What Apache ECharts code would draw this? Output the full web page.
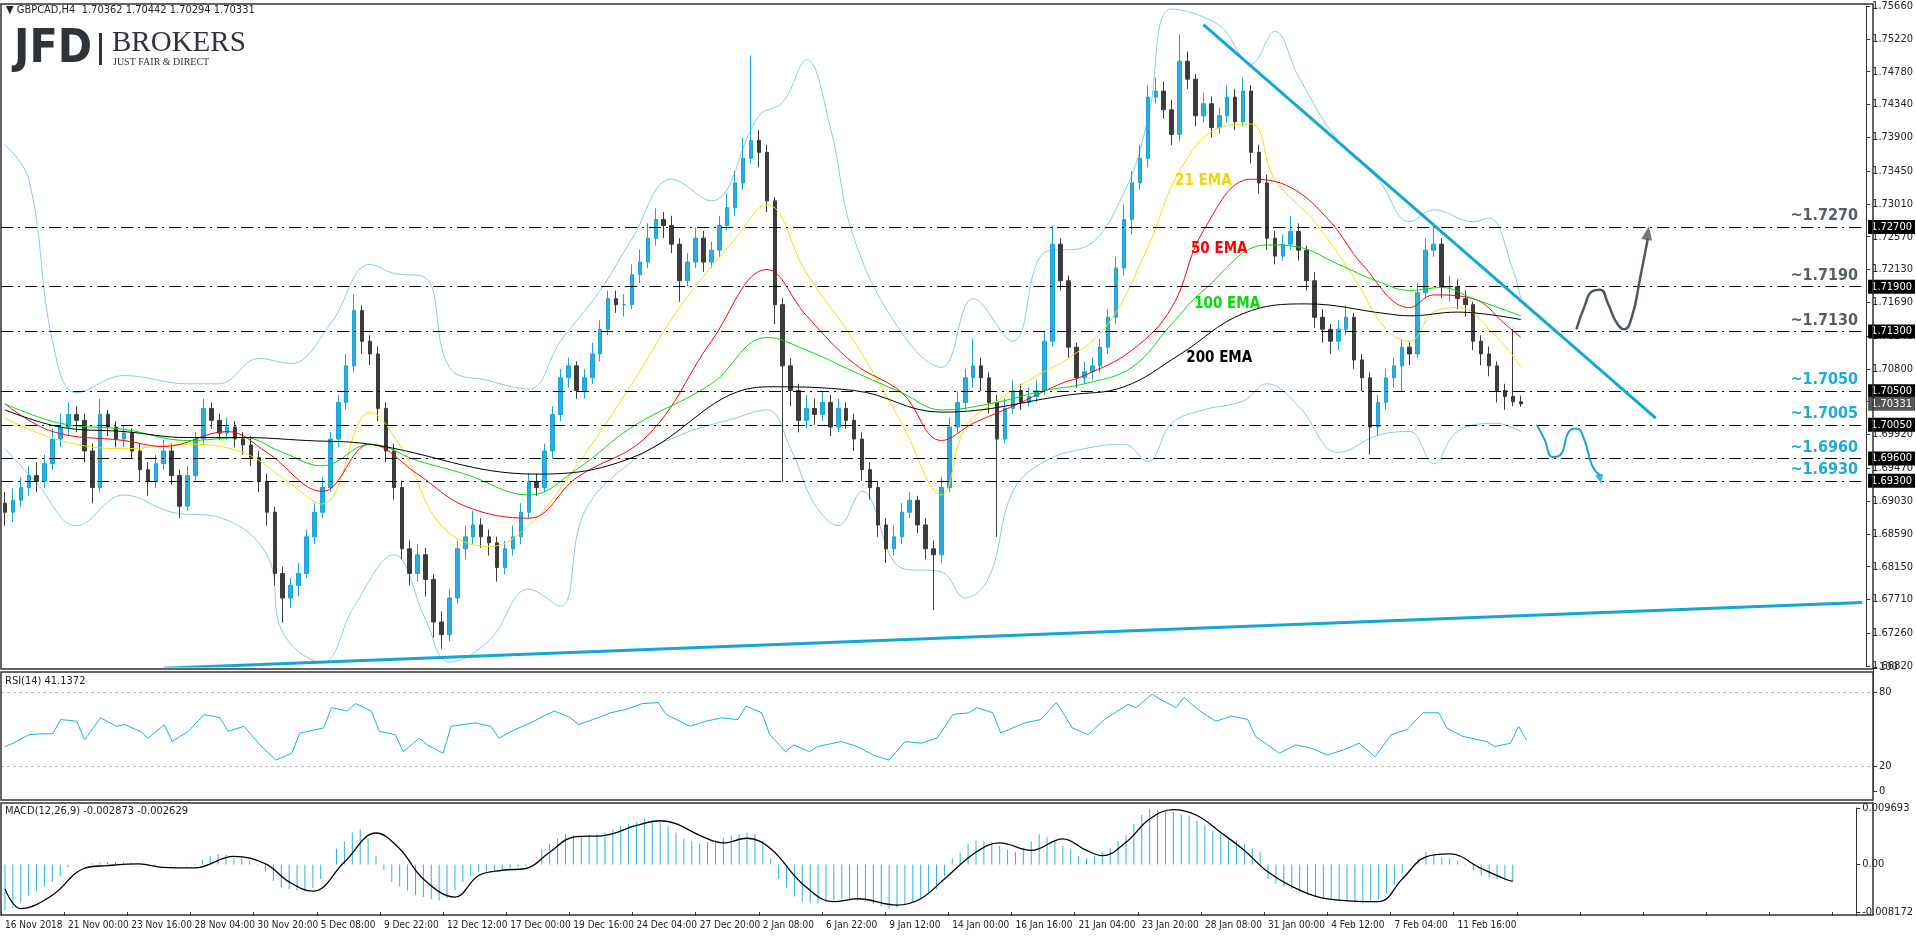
<!DOCTYPE html>
<html><head><meta charset="utf-8">
<script src="https://cdn.jsdelivr.net/npm/echarts@6/dist/echarts.min.js"></script>
<style>html,body{margin:0;padding:0;background:#fff}#c{width:1916px;height:936px}</style>
</head><body><div id="c"></div>
<script>
const xLabels=['16 Nov 2018','21 Nov 00:00','23 Nov 16:00','28 Nov 04:00','30 Nov 20:00','5 Dec 08:00','9 Dec 22:00','12 Dec 12:00','17 Dec 00:00','19 Dec 16:00','24 Dec 04:00','27 Dec 20:00','2 Jan 08:00','6 Jan 22:00','9 Jan 12:00','14 Jan 00:00','16 Jan 16:00','21 Jan 04:00','23 Jan 20:00','28 Jan 08:00','31 Jan 00:00','4 Feb 12:00','7 Feb 04:00','11 Feb 16:00'];
const firstOpen=1.6900;
const closes=[1.6888,1.6904,1.6921,1.6937,1.6929,1.6953,1.6986,1.7002,1.7019,1.7011,
1.6970,1.6921,1.7019,1.7002,1.6986,1.6994,1.6970,1.6945,1.6929,1.6953,
1.6970,1.6937,1.6896,1.6937,1.6986,1.7027,1.7011,1.6994,1.7002,1.6986,
1.6978,1.6961,1.6929,1.6888,1.6806,1.6773,1.6790,1.6806,1.6855,1.6888,
1.6921,1.6986,1.7035,1.7084,1.7158,1.7117,1.7100,1.7027,1.6970,1.6921,
1.6839,1.6806,1.6831,1.6798,1.6741,1.6724,1.6773,1.6839,1.6855,1.6871,
1.6855,1.6847,1.6814,1.6839,1.6855,1.6888,1.6929,1.6921,1.6970,1.7019,
1.7068,1.7084,1.7051,1.7068,1.7100,1.7133,1.7174,1.7166,1.7166,1.7206,
1.7223,1.7255,1.7280,1.7272,1.7247,1.7198,1.7223,1.7255,1.7223,1.7239,
1.7272,1.7296,1.7329,1.7362,1.7386,1.7370,1.7305,1.7166,1.7084,1.7051,
1.7011,1.7027,1.7019,1.7035,1.7002,1.7027,1.7011,1.6986,1.6945,1.6921,
1.6871,1.6839,1.6855,1.6888,1.6904,1.6871,1.6839,1.6831,1.6921,1.7002,
1.7035,1.7068,1.7084,1.7068,1.7035,1.6986,1.7027,1.7051,1.7035,1.7043,
1.7051,1.7117,1.7247,1.7198,1.7109,1.7068,1.7076,1.7084,1.7109,1.7149,
1.7215,1.7280,1.7329,1.7362,1.7444,1.7452,1.7427,1.7394,1.7492,1.7468,
1.7419,1.7435,1.7403,1.7419,1.7444,1.7411,1.7452,1.7370,1.7329,1.7255,
1.7231,1.7247,1.7264,1.7239,1.7198,1.7149,1.7133,1.7117,1.7133,1.7149,
1.7092,1.7068,1.7002,1.7035,1.7068,1.7084,1.7109,1.7100,1.7182,1.7239,
1.7247,1.7190,1.7190,1.7174,1.7166,1.7117,1.7100,1.7084,1.7051,1.7043,
1.7036,1.7033];
const highs=[1.6915,1.6920,1.6935,1.6950,1.6955,1.6965,1.7000,1.7020,1.7035,1.7030,
1.7020,1.6980,1.7040,1.7025,1.7010,1.7005,1.7000,1.6980,1.6955,1.6965,
1.6985,1.6980,1.6945,1.6950,1.6995,1.7040,1.7035,1.7020,1.7015,1.7010,
1.6995,1.6990,1.6970,1.6940,1.6895,1.6815,1.6800,1.6820,1.6865,1.6900,
1.6935,1.6995,1.7045,1.7100,1.7180,1.7165,1.7125,1.7110,1.7035,1.6980,
1.6930,1.6850,1.6845,1.6840,1.6805,1.6755,1.6785,1.6850,1.6870,1.6890,
1.6880,1.6865,1.6855,1.6850,1.6870,1.6900,1.6940,1.6940,1.6980,1.7030,
1.7080,1.7095,1.7090,1.7080,1.7115,1.7145,1.7185,1.7185,1.7180,1.7220,
1.7240,1.7275,1.7295,1.7290,1.7285,1.7255,1.7235,1.7270,1.7265,1.7250,
1.7285,1.7315,1.7345,1.7390,1.7500,1.7400,1.7380,1.7310,1.7175,1.7095,
1.7060,1.7045,1.7040,1.7050,1.7045,1.7040,1.7035,1.7020,1.6995,1.6955,
1.6930,1.6880,1.6870,1.6900,1.6915,1.6910,1.6880,1.6850,1.6935,1.7015,
1.7050,1.7080,1.7120,1.7095,1.7075,1.7045,1.7040,1.7065,1.7060,1.7055,
1.7065,1.7130,1.7272,1.7255,1.7205,1.7115,1.7090,1.7095,1.7120,1.7160,
1.7230,1.7300,1.7345,1.7380,1.7460,1.7470,1.7465,1.7440,1.7528,1.7505,
1.7475,1.7450,1.7445,1.7430,1.7460,1.7455,1.7470,1.7460,1.7380,1.7340,
1.7265,1.7260,1.7285,1.7275,1.7245,1.7210,1.7160,1.7140,1.7145,1.7165,
1.7155,1.7100,1.7075,1.7045,1.7080,1.7095,1.7120,1.7115,1.7195,1.7255,
1.7272,1.7255,1.7205,1.7200,1.7185,1.7170,1.7125,1.7110,1.7090,1.7060,
1.7133,1.7044];
const lows=[1.6870,1.6875,1.6895,1.6910,1.6915,1.6920,1.6945,1.6975,1.6990,1.6995,
1.6955,1.6900,1.6915,1.6990,1.6975,1.6975,1.6960,1.6930,1.6910,1.6920,
1.6945,1.6925,1.6880,1.6890,1.6930,1.6980,1.7000,1.6985,1.6985,1.6975,
1.6965,1.6950,1.6915,1.6870,1.6790,1.6740,1.6760,1.6775,1.6800,1.6845,
1.6880,1.6915,1.6975,1.7025,1.7075,1.7100,1.7085,1.7010,1.6955,1.6905,
1.6825,1.6790,1.6795,1.6775,1.6720,1.6705,1.6715,1.6765,1.6825,1.6845,
1.6840,1.6830,1.6795,1.6805,1.6830,1.6845,1.6880,1.6910,1.6915,1.6960,
1.7010,1.7055,1.7040,1.7040,1.7060,1.7090,1.7125,1.7155,1.7150,1.7160,
1.7195,1.7215,1.7245,1.7255,1.7235,1.7170,1.7190,1.7215,1.7210,1.7215,
1.7230,1.7265,1.7285,1.7320,1.7355,1.7350,1.7290,1.7140,1.6929,1.7030,
1.6995,1.7000,1.7005,1.7010,1.6990,1.6995,1.7000,1.6970,1.6930,1.6905,
1.6855,1.6820,1.6830,1.6845,1.6880,1.6860,1.6825,1.6757,1.6820,1.6915,
1.6995,1.7025,1.7055,1.7050,1.7020,1.6855,1.6980,1.7020,1.7025,1.7030,
1.7035,1.7045,1.7110,1.7185,1.7095,1.7055,1.7060,1.7065,1.7075,1.7100,
1.7140,1.7205,1.7260,1.7320,1.7350,1.7435,1.7415,1.7380,1.7385,1.7455,
1.7405,1.7410,1.7390,1.7395,1.7410,1.7400,1.7405,1.7355,1.7315,1.7240,
1.7220,1.7225,1.7240,1.7225,1.7185,1.7135,1.7115,1.7100,1.7105,1.7125,
1.7080,1.7050,1.6965,1.6990,1.7025,1.7055,1.7050,1.7085,1.7095,1.7175,
1.7230,1.7175,1.7170,1.7160,1.7150,1.7105,1.7085,1.7070,1.7035,1.7025,
1.7030,1.7029];
const ema21=[[0,1.7014],[7,1.6984],[15,1.6973],[23,1.6979],[30,1.6968],[35,1.6934],[40,1.6899],[46,1.7022],[50,1.6973],[55,1.6870],[61,1.6842],[66,1.6870],[72,1.6950],[79,1.7060],[85,1.7162],[92,1.7254],[96,1.7300],[101,1.7208],[107,1.7117],[113,1.7007],[118,1.6911],[121,1.7002],[125,1.7037],[130,1.7071],[134,1.7094],[139,1.7140],[144,1.7243],[148,1.7345],[153,1.7403],[157,1.7408],[160,1.7334],[165,1.7277],[170,1.7202],[174,1.7133],[177,1.7117],[180,1.7156],[183,1.7162],[188,1.7122],[191,1.7082]];
const ema50=[[0,1.7033],[6,1.6996],[15,1.6984],[20,1.6976],[28,1.6996],[33,1.6968],[40,1.6916],[46,1.6979],[52,1.6939],[58,1.6896],[66,1.6880],[72,1.6934],[81,1.6991],[89,1.7117],[96,1.7213],[101,1.7151],[107,1.7087],[113,1.7048],[118,1.6984],[122,1.7007],[127,1.7030],[133,1.7060],[136,1.7071],[142,1.7105],[147,1.7162],[151,1.7265],[157,1.7334],[162,1.7323],[167,1.7277],[171,1.7220],[177,1.7162],[180,1.7179],[185,1.7174],[189,1.7140],[191,1.7122]];
const ema100=[[0,1.7033],[7,1.7007],[15,1.6999],[23,1.6984],[30,1.6988],[35,1.6968],[40,1.6950],[46,1.6979],[52,1.6957],[58,1.6939],[66,1.6911],[72,1.6945],[79,1.7002],[89,1.7060],[96,1.7122],[101,1.7105],[107,1.7076],[113,1.7048],[118,1.7025],[124,1.7033],[131,1.7051],[136,1.7060],[142,1.7082],[147,1.7140],[151,1.7185],[159,1.7246],[163,1.7243],[168,1.7220],[173,1.7197],[177,1.7185],[181,1.7189],[185,1.7174],[191,1.7151]];
const ema200=[[0,1.7025],[7,1.7002],[15,1.6996],[23,1.6988],[30,1.6988],[38,1.6984],[46,1.6979],[67,1.6939],[79,1.6961],[96,1.7056],[107,1.7051],[118,1.7022],[134,1.7045],[141,1.7056],[148,1.7099],[156,1.7154],[164,1.7167],[174,1.7154],[177,1.7151],[183,1.7156],[191,1.7146]];
const bbUpper=[[0,1.7380],[3,1.7334],[6,1.7117],[9,1.7048],[15,1.7071],[23,1.7060],[27,1.7060],[32,1.7094],[36,1.7087],[41,1.7140],[46,1.7220],[49,1.7208],[53,1.7202],[56,1.7082],[61,1.7064],[66,1.7053],[70,1.7117],[75,1.7185],[79,1.7254],[84,1.7334],[89,1.7305],[95,1.7419],[98,1.7437],[101,1.7494],[104,1.7403],[107,1.7254],[113,1.7128],[118,1.7082],[122,1.7174],[127,1.7117],[131,1.7236],[136,1.7243],[141,1.7316],[144,1.7414],[147,1.7562],[153,1.7540],[157,1.7488],[160,1.7532],[163,1.7471],[168,1.7385],[173,1.7334],[177,1.7277],[180,1.7293],[185,1.7277],[187,1.7282],[190,1.7213],[191,1.7174]];
const bbLower=[[0,1.6973],[4,1.6927],[9,1.6870],[15,1.6911],[21,1.6888],[27,1.6881],[33,1.6831],[35,1.6727],[40,1.6687],[44,1.6762],[49,1.6831],[53,1.6744],[56,1.6687],[61,1.6716],[66,1.6785],[70,1.6762],[73,1.6888],[79,1.6956],[85,1.6991],[92,1.7014],[96,1.7025],[99,1.6973],[102,1.6899],[105,1.6870],[108,1.6916],[113,1.6813],[118,1.6808],[121,1.6773],[124,1.6801],[127,1.6916],[131,1.6956],[136,1.6973],[141,1.6979],[144,1.6956],[147,1.7007],[151,1.7025],[156,1.7037],[159,1.7060],[163,1.7030],[168,1.6968],[173,1.6991],[177,1.6996],[180,1.6953],[183,1.6996],[188,1.7007],[191,1.6996]];
const rsi=[[0,35.8],[1,38.5],[3,45.4],[4,45.9],[6,46.2],[7,57.6],[9,56.3],[10,41.3],[12,59.0],[14,52.2],[15,53.5],[17,48.1],[18,42.6],[20,53.5],[21,39.9],[23,48.1],[25,61.7],[27,59.0],[28,48.1],[30,52.2],[32,37.2],[34,24.9],[36,30.4],[37,46.7],[40,50.8],[41,67.2],[43,64.5],[44,70.5],[46,64.5],[47,48.1],[49,45.4],[50,31.7],[52,42.6],[53,37.2],[55,30.4],[56,52.2],[59,54.9],[61,52.2],[62,42.6],[64,49.5],[66,54.9],[68,61.7],[69,64.5],[71,59.0],[72,53.5],[75,60.4],[76,63.1],[78,65.8],[80,70.5],[82,71.3],[83,61.7],[86,52.2],[88,56.3],[90,59.0],[92,57.6],[93,68.5],[95,63.1],[96,45.4],[98,31.7],[99,37.2],[101,31.7],[102,35.8],[105,39.9],[107,35.8],[109,29.0],[111,24.9],[113,39.9],[115,38.5],[117,42.6],[119,61.7],[121,63.1],[122,67.2],[124,63.1],[125,46.7],[128,54.9],[130,57.6],[132,71.3],[134,50.8],[136,45.4],[138,57.6],[141,69.9],[142,67.2],[144,78.1],[145,74.0],[147,67.2],[148,75.4],[150,64.5],[152,56.3],[154,60.4],[156,57.6],[157,44.0],[160,30.4],[162,37.2],[164,34.5],[166,29.0],[168,33.1],[170,38.5],[172,27.6],[174,45.4],[176,49.5],[178,63.1],[180,63.1],[181,50.8],[183,44.0],[186,39.9],[187,35.8],[189,38.5],[190,52.2],[191,41.1]];
const macdHist=[-79,-75,-65,-53,-45,-38,-30,-20,-5,0,1,2,3,4,4,4,3,1,-1,-2,-1,-1,0,1,1,8,14,18,16,12,10,6,-2,-12,-28,-40,-42,-45,-47,-40,-25,0,27,40,55,61,45,15,-10,-30,-38,-45,-53,-56,-60,-62,-58,-45,-30,-20,-13,-12,-10,-8,-7,-5,-3,0,27,35,45,52,50,48,50,52,55,60,67,70,72,78,76,72,65,55,44,40,35,38,42,45,50,52,55,52,40,10,-25,-40,-55,-64,-66,-67,-65,-62,-59,-60,-62,-64,-68,-72,-76,-74,-70,-65,-59,-50,-42,-20,10,20,35,41,40,38,32,25,21,28,40,52,48,40,32,25,15,10,14,21,28,40,50,70,85,95,94,92,90,86,84,76,68,58,52,46,41,35,28,21,-25,-33,-38,-42,-47,-52,-56,-59,-61,-63,-64,-65,-67,-66,-60,-50,-35,-15,-2,10,21,18,12,10,5,-2,-10,-19,-22,-25,-27,-29];
const macdSignal=[[0,-42],[2,-76],[6,-53],[10,-7],[13,-2],[17,1],[20,-5],[24,-6],[29,14],[33,1],[36,-30],[39,-46],[43,4],[47,54],[50,27],[53,-25],[57,-56],[60,-19],[63,-10],[66,-7],[69,21],[72,47],[76,50],[80,67],[83,75],[85,70],[88,50],[91,37],[94,45],[97,27],[101,-33],[105,-64],[108,-59],[113,-70],[116,-59],[119,-25],[123,21],[126,37],[130,24],[134,44],[137,24],[139,15],[142,38],[145,78],[148,94],[151,84],[154,55],[157,24],[160,-13],[164,-44],[168,-60],[174,-64],[177,-25],[180,13],[183,18],[187,-7],[190,-25],[191,-29]];
const priceTicks=[1.75660,1.75220,1.74780,1.74340,1.73900,1.73450,1.73010,1.72570,1.72130,1.71690,1.71240,1.70800,1.70360,1.69920,1.69470,1.69030,1.68590,1.68150,1.67710,1.67260,1.66820];
const levels=[1.7270,1.7190,1.7130,1.7050,1.7005,1.6960,1.6930];
const levelNotes=['~1.7270','~1.7190','~1.7130','~1.7050','~1.7005','~1.6960','~1.6930'];
const lastPrice=1.70331;
const downTrend=[[151,1.7541],[208,1.7014]];
const upTrend=[[20,1.6679],[234,1.6767]];
const bullPath=[[198,1.7133],[199,1.7163],[200,1.7184],[201,1.7186],[202,1.7167],[203,1.7143],[204,1.7133],[205,1.7150],[206,1.7200],[207,1.7255]];
const bearPath=[[193,1.7005],[194,1.6985],[195,1.6962],[196,1.6965],[197,1.6995],[198,1.7000],[199,1.6985],[200,1.6950],[201,1.6937]];
const bullHead=[207,1.7262];
const bearHead=[201,1.6932];
const emaNotes=[['21 EMA',151,1.7332,'#f0d800'],['50 EMA',153,1.7241,'#ff0000'],['100 EMA',154,1.7167,'#00dd00'],['200 EMA',153,1.7095,'#000000']];

const N=235;
const cats=[];for(let i=0;i<N;i++)cats.push(i%8===0&&xLabels[i/8]?xLabels[i/8]:'');
const candles=closes.map((c,i)=>[i===0?firstOpen:closes[i-1],c,lows[i],highs[i]]);
const FONT='DejaVu Sans Condensed, DejaVu Sans, sans-serif';
const chart=echarts.init(document.getElementById('c'));
const xBase={type:'category',data:cats,boundaryGap:true,axisLine:{show:false,onZero:false},axisTick:{show:false},axisLabel:{show:false},splitLine:{show:false}};
const lvlLabel=(bg)=>({show:true,position:'end',distance:2,formatter:p=>Number(p.value).toFixed(5),color:'#fff',backgroundColor:bg,padding:[2,3,1,3],fontSize:11,fontFamily:FONT});
chart.setOption({
 animation:false,
 grid:[{left:1,right:43,top:6,height:660},{left:1,right:43,top:667,height:124},{left:1,right:43,top:808,height:104}],
 xAxis:[Object.assign({gridIndex:0},xBase),Object.assign({gridIndex:1},xBase),
  Object.assign({},xBase,{gridIndex:2,axisTick:{show:true,interval:i=>i%8===0,length:4,lineStyle:{color:'#333'}},axisLabel:{show:true,interval:0,align:'left',margin:8,fontSize:10,color:'#222',fontFamily:FONT}})],
 yAxis:[
  {gridIndex:0,position:'right',min:1.6682,max:1.7566,axisLine:{show:true,lineStyle:{color:'#333'}},axisTick:{show:true,customValues:priceTicks,length:4},splitLine:{show:false},axisLabel:{customValues:priceTicks,formatter:v=>v.toFixed(5),fontSize:11,color:'#222',fontFamily:FONT,margin:6}},
  {gridIndex:1,position:'right',min:0,max:100,axisLine:{show:true,lineStyle:{color:'#333'}},axisTick:{show:true,customValues:[0,20,80,100],length:4},splitLine:{show:false},axisLabel:{customValues:[0,20,80,100],fontSize:11,color:'#222',fontFamily:FONT,margin:6}},
  {gridIndex:2,position:'right',min:-0.008172,max:0.009693,axisLine:{show:true,lineStyle:{color:'#333'}},axisTick:{show:true,customValues:[-0.008172,0,0.009693],length:4},splitLine:{show:false},axisLabel:{customValues:[-0.008172,0,0.009693],formatter:v=>v===0?'0.00':v.toFixed(6),fontSize:11,color:'#222',fontFamily:FONT,margin:6}}
 ],
 series:[
  {type:'line',name:'bbU',data:bbUpper,smooth:0.4,symbol:'none',lineStyle:{color:'#86c9ee',width:1},z:1},
  {type:'line',name:'bbL',data:bbLower,smooth:0.4,symbol:'none',lineStyle:{color:'#86c9ee',width:1},z:1},
  {type:'candlestick',data:candles,barWidth:4,itemStyle:{color:'#2aaee0',color0:'#3c3c3c',borderColor:'#1aa3d8',borderColor0:'#3c3c3c',borderWidth:1},z:3,
   markLine:{silent:true,precision:5,symbol:'none',lineStyle:{color:'#000',width:1,type:[12,5,2,5]},
    data:levels.map(v=>({yAxis:v,label:lvlLabel('#000')})).concat([{yAxis:lastPrice,lineStyle:{color:'rgba(0,0,0,0)',width:1},label:lvlLabel('#555')}])}},
  {type:'line',data:ema21,smooth:0.4,symbol:'none',lineStyle:{color:'#f0e000',width:1},z:4},
  {type:'line',data:ema50,smooth:0.4,symbol:'none',lineStyle:{color:'#ff0000',width:1},z:4},
  {type:'line',data:ema100,smooth:0.4,symbol:'none',lineStyle:{color:'#00dd00',width:1},z:4},
  {type:'line',data:ema200,smooth:0.4,symbol:'none',lineStyle:{color:'#000',width:1},z:4},
  {type:'line',data:downTrend,symbol:'none',lineStyle:{color:'#13a7d6',width:3},z:5},
  {type:'line',data:upTrend,symbol:'none',lineStyle:{color:'#13a7d6',width:3},z:5},
  {type:'line',data:bullPath,smooth:0.5,symbol:'none',lineStyle:{color:'#4d5864',width:2.5},z:6},
  {type:'line',data:bearPath,smooth:0.5,symbol:'none',lineStyle:{color:'#13a7d6',width:2},z:6},
  {type:'scatter',data:[bullHead],symbol:'triangle',symbolSize:[11,14],symbolRotate:-10,itemStyle:{color:'#4d5864'},z:7},
  {type:'scatter',data:[bearHead],symbol:'triangle',symbolSize:[8,10],symbolRotate:192,itemStyle:{color:'#13a7d6'},z:7},
  {type:'line',xAxisIndex:1,yAxisIndex:1,data:rsi,symbol:'none',lineStyle:{color:'#14b4dc',width:1},
   markLine:{silent:true,symbol:'none',label:{show:false},lineStyle:{color:'#bbb',type:[3,3],width:1},data:[{yAxis:80},{yAxis:20}]}},
  {type:'bar',xAxisIndex:2,yAxisIndex:2,data:macdHist.map(v=>v/10000),barWidth:1,itemStyle:{color:'#2bb3e0'}},
  {type:'line',xAxisIndex:2,yAxisIndex:2,data:macdSignal.map(p=>[p[0],p[1]/10000]),smooth:0.4,symbol:'none',lineStyle:{color:'#000',width:1.3},z:5}
 ]
});
const g=[];
g.push({type:'rect',shape:{x:1,y:4,width:1872,height:665},style:{fill:'none',stroke:'#333',lineWidth:1.5},silent:true,z:100});
g.push({type:'rect',shape:{x:1,y:672,width:1872,height:128},style:{fill:'none',stroke:'#333',lineWidth:1.5},silent:true,z:100});
g.push({type:'rect',shape:{x:1,y:803,width:1872,height:112},style:{fill:'none',stroke:'#333',lineWidth:1.5},silent:true,z:100});
g.push({type:'text',left:6,top:5,style:{text:'▼ GBPCAD,H4  1.70362 1.70442 1.70294 1.70331',fontSize:11,fill:'#222',fontFamily:FONT},z:100});
g.push({type:'text',left:5,top:676,style:{text:'RSI(14) 41.1372',fontSize:11,fill:'#222',fontFamily:FONT},z:100});
g.push({type:'text',left:5,top:806,style:{text:'MACD(12,26,9) -0.002873 -0.002629',fontSize:11,fill:'#222',fontFamily:FONT},z:100});
g.push({type:'text',left:14,top:27,style:{text:'JFD',fontSize:46,fontWeight:'bold',fill:'#2f343b',fontFamily:'Liberation Sans Narrow, DejaVu Sans Condensed, sans-serif'},z:100});
g.push({type:'rect',shape:{x:99,y:33,width:3,height:32},style:{fill:'#2f343b'},z:100});
g.push({type:'text',left:112,top:29,style:{text:'BROKERS',fontSize:29,fill:'#2f343b',fontFamily:'Liberation Serif, DejaVu Serif, serif'},z:100});
g.push({type:'text',left:113,top:57,style:{text:'JUST FAIR & DIRECT',fontSize:10,fill:'#2f343b',fontFamily:'Liberation Serif, DejaVu Serif, serif'},z:100});
levels.forEach((v,k)=>{
 const y=chart.convertToPixel({yAxisIndex:0},v);
 g.push({type:'text',x:1858,y:y-11,style:{text:levelNotes[k],align:'right',verticalAlign:'middle',fontSize:16,fontWeight:'bold',fill:k<3?'#555d66':'#1ea9dc',fontFamily:FONT},z:100});
});
emaNotes.forEach(n=>{
 const p=chart.convertToPixel({gridIndex:0},[n[1],n[2]]);
 g.push({type:'text',x:p[0],y:p[1],style:{text:n[0],align:'center',verticalAlign:'middle',fontSize:15,fontWeight:'bold',fill:n[3],fontFamily:FONT},z:100});
});
chart.setOption({graphic:g});
</script></body></html>
